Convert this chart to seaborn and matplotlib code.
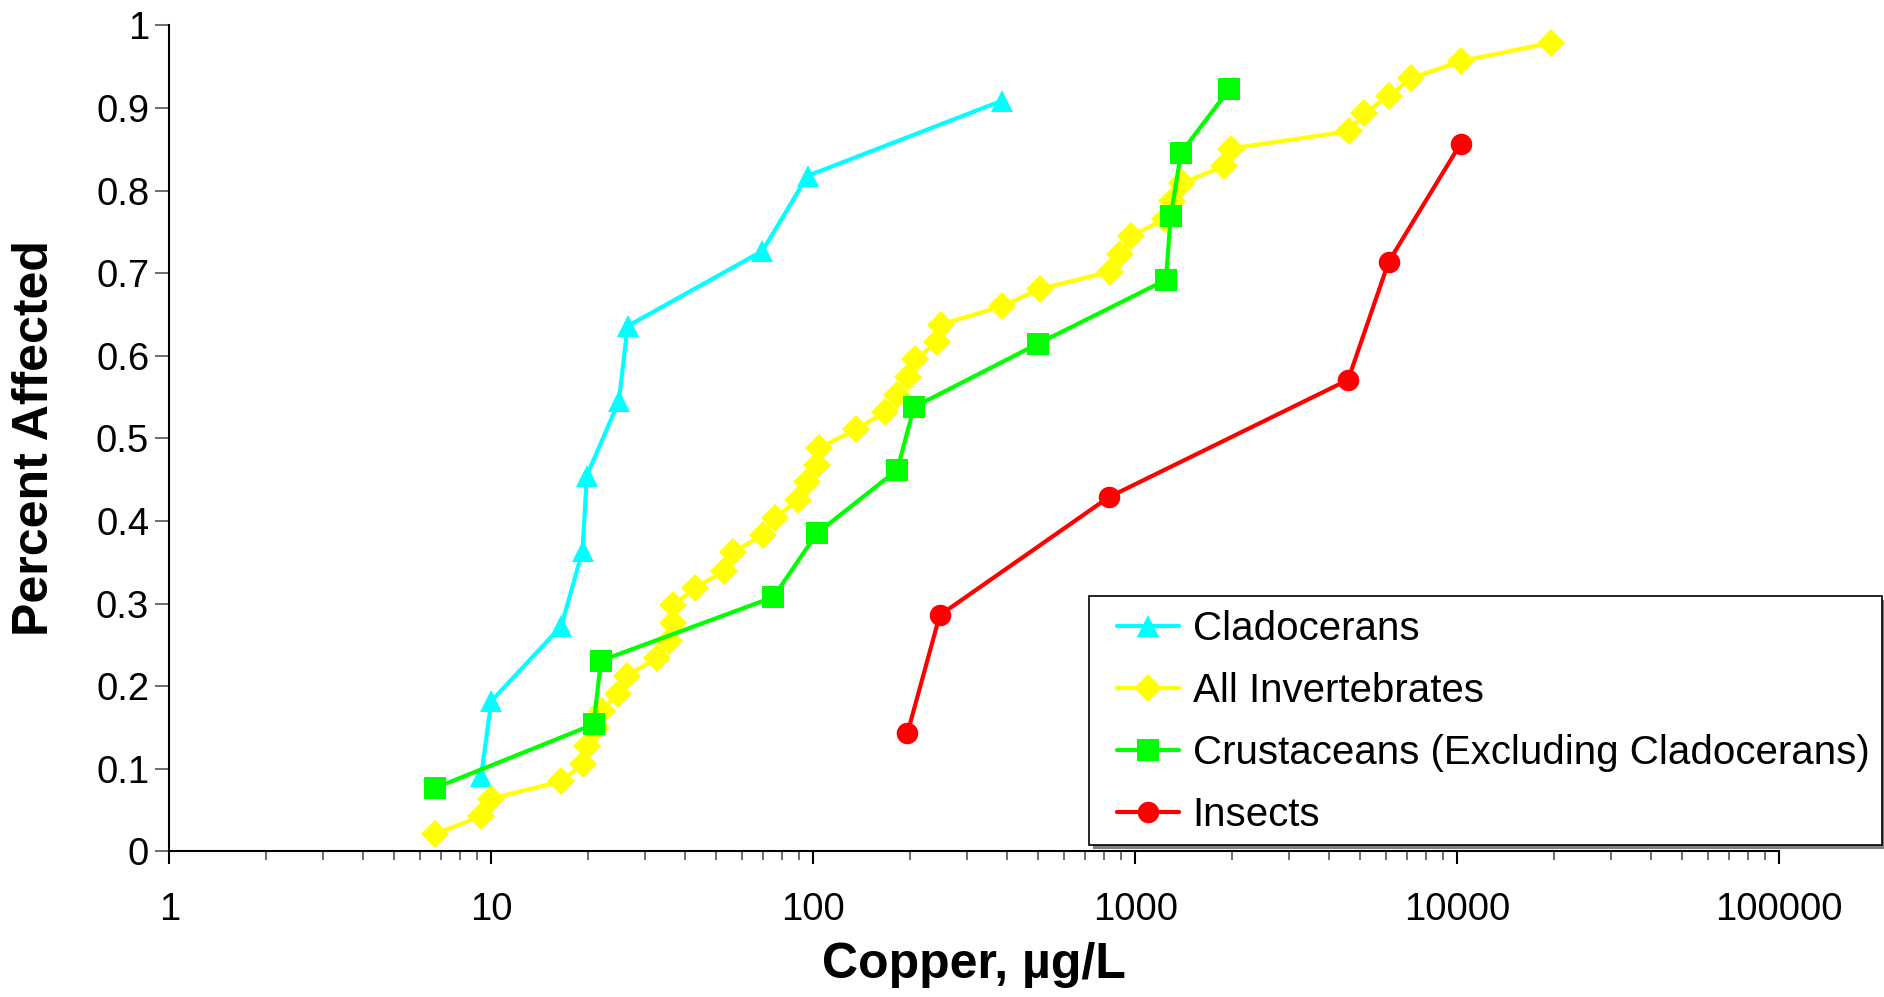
import matplotlib
matplotlib.use("Agg")
import matplotlib.pyplot as plt
from matplotlib.patches import Rectangle
from matplotlib.ticker import FixedLocator, LogLocator, NullFormatter, FixedFormatter
import seaborn as sns
import pandas as pd

# Copper concentration (ug/L) vs. cumulative fraction of taxa affected
clad_cu = [9.3, 10.0, 16.5, 19.2, 19.8, 24.9, 26.5, 69.5, 96.0, 386.0]
clad_frac = [0.091, 0.182, 0.273, 0.364, 0.455, 0.545, 0.636, 0.727, 0.818, 0.909]

inv_cu = [6.7, 9.3, 10.0, 16.5, 19.2, 19.8, 21.1, 22.0, 24.8, 26.3,
          32.7, 35.7, 36.7, 36.7, 42.9, 52.9, 56.2, 69.6, 76.1, 89.8,
          95.4, 103.0, 104.5, 136.0, 167.0, 182.5, 197.0, 207.0, 243.0, 249.0,
          385.0, 505.0, 834.0, 896.0, 970.0, 1240.0, 1297.0, 1400.0, 1884.0, 1978.0,
          4613.0, 5142.0, 6146.0, 7177.0, 10300.0, 19540.0]
inv_frac = [0.021, 0.043, 0.064, 0.085, 0.106, 0.128, 0.149, 0.170, 0.191, 0.213,
            0.234, 0.255, 0.277, 0.298, 0.319, 0.340, 0.362, 0.383, 0.404, 0.426,
            0.447, 0.468, 0.489, 0.511, 0.532, 0.553, 0.574, 0.596, 0.617, 0.638,
            0.660, 0.681, 0.702, 0.723, 0.745, 0.766, 0.787, 0.809, 0.830, 0.851,
            0.872, 0.894, 0.915, 0.936, 0.957, 0.979]

crus_cu = [6.7, 20.8, 21.9, 75.2, 102.5, 182.3, 205.5, 500.0, 1245.0, 1288.0, 1387.0, 1960.0]
crus_frac = [0.077, 0.154, 0.231, 0.308, 0.385, 0.462, 0.538, 0.615, 0.692, 0.769, 0.846, 0.923]

ins_cu = [196.0, 247.0, 828.0, 4580.0, 6124.0, 10240.0]
ins_frac = [0.143, 0.286, 0.429, 0.571, 0.714, 0.857]

series_names = ["Cladocerans", "All Invertebrates",
                "Crustaceans (Excluding Cladocerans)", "Insects"]
x_tick_vals = [1, 10, 100, 1000, 10000, 100000]
x_tick_labels = ["1", "10", "100", "1000", "10000", "100000"]
y_tick_vals = [0, 0.1, 0.2, 0.3, 0.4, 0.5, 0.6, 0.7, 0.8, 0.9, 1.0]
y_tick_labels = ["0", "0.1", "0.2", "0.3", "0.4", "0.5", "0.6", "0.7", "0.8", "0.9", "1"]

sns.set_theme(style="white")
plt.rcParams["font.family"] = ["Liberation Sans", "DejaVu Sans"]
plt.rcParams["text.color"] = "black"
plt.rcParams["axes.labelcolor"] = "black"
plt.rcParams["xtick.labelcolor"] = "black"
plt.rcParams["ytick.labelcolor"] = "black"

fig = plt.figure(figsize=(18.84, 9.97), dpi=100)
ax = fig.add_axes([0.08986, 0.14594, 0.85456, 0.82849])

styles = [
    (clad_cu, clad_frac, "#00FFFF", "^", 16.0),
    (inv_cu, inv_frac, "#FFFF00", "D", 14.0),
    (crus_cu, crus_frac, "#00FF00", "s", 15.5),
    (ins_cu, ins_frac, "#FF0000", "o", 15.5),
]
for name, (xs, ys, col, mk, ms) in zip(series_names, styles):
    df = pd.DataFrame({"cu": xs, "frac": ys})
    sns.lineplot(data=df, x="cu", y="frac", ax=ax, sort=False, estimator=None,
                 color=col, linewidth=3, marker=mk, markersize=ms,
                 markeredgewidth=0, markerfacecolor=col, label=name,
                 clip_on=False)

ax.set_xscale("log")
ax.set_xlim(1, 100000)
ax.set_ylim(0, 1)

ax.xaxis.set_major_locator(FixedLocator(x_tick_vals))
ax.xaxis.set_major_formatter(FixedFormatter(x_tick_labels))
ax.xaxis.set_minor_locator(LogLocator(base=10, subs=[2, 3, 4, 5, 6, 7, 8, 9], numticks=20))
ax.xaxis.set_minor_formatter(NullFormatter())
ax.yaxis.set_major_locator(FixedLocator(y_tick_vals))
ax.yaxis.set_major_formatter(FixedFormatter(y_tick_labels))

for side in ["top", "right"]:
    ax.spines[side].set_visible(False)
for side in ["left", "bottom"]:
    ax.spines[side].set_color("black")
    ax.spines[side].set_linewidth(1.5)

ax.tick_params(axis="x", which="major", direction="out", length=9.5, width=1.5,
               color="black", labelcolor="black", labelsize=27.5, pad=20, bottom=True)
ax.tick_params(axis="x", which="minor", direction="out", length=6.5, width=1.2,
               color="#555555", bottom=True)
ax.tick_params(axis="y", which="major", direction="out", length=10, width=1.2,
               color="#555555", labelcolor="black", labelsize=27.5, pad=4.5, left=True)

label_font = {"family": ["Liberation Sans", "DejaVu Sans"], "weight": "bold",
              "size": 36, "color": "black"}
ax.set_xlabel("Copper, \u00b5g/L", fontdict=label_font)
ax.set_ylabel("Percent Affected", fontdict=label_font)
ax.xaxis.set_label_coords(0.5, -0.109)
ax.yaxis.set_label_coords(-0.069, 0.5)

# legend box with a grey drop shadow
box_x, box_y, box_w, box_h = 1089 / 1884, 1 - 845 / 997, 793 / 1884, 249 / 997
ax.add_patch(Rectangle((box_x + 4 / 1884, box_y - 4 / 997), box_w, box_h,
                       transform=fig.transFigure, facecolor="#808080",
                       edgecolor="none", clip_on=False, zorder=4))
ax.add_patch(Rectangle((box_x, box_y), box_w, box_h, transform=fig.transFigure,
                       facecolor="white", edgecolor="black", linewidth=1.2,
                       clip_on=False, zorder=4.1))

leg = ax.legend(loc="upper left", bbox_to_anchor=(1117 / 1884, 1 - 610 / 997),
                bbox_transform=fig.transFigure, frameon=False,
                prop={"size": 29}, handlelength=1.55, handletextpad=0.33,
                labelspacing=0.6, borderpad=0.0, borderaxespad=0.0)
leg.set_zorder(5)
for txt in leg.get_texts():
    txt.set_color("black")

fig.savefig("out.png", dpi=100, facecolor="white")
